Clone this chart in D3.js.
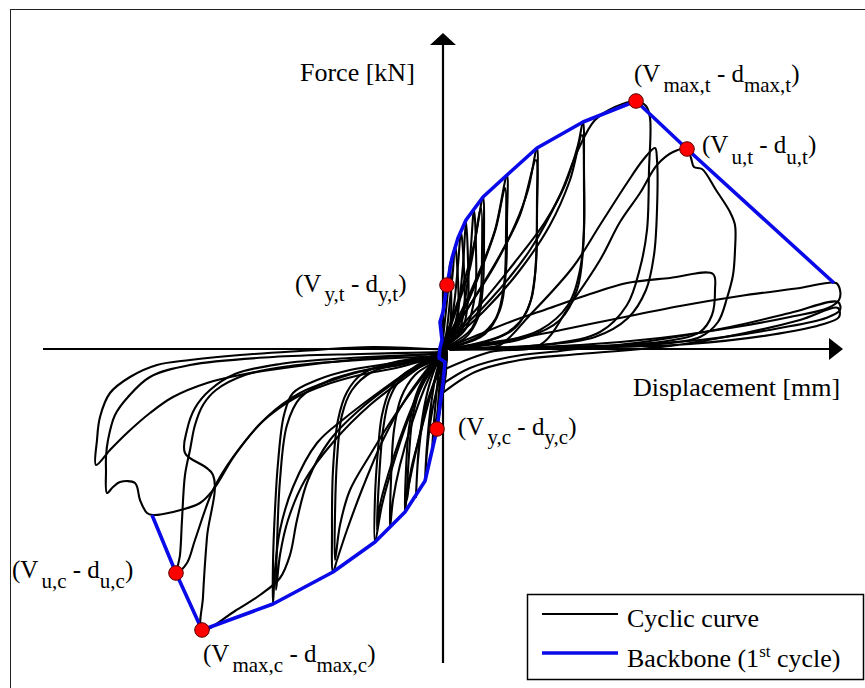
<!DOCTYPE html>
<html><head><meta charset="utf-8">
<script src="https://cdn.jsdelivr.net/npm/d3@7"></script>
<style>
body{margin:0;background:#fff}
svg{display:block}
text{font-family:"Liberation Serif","Times New Roman",Times,serif;fill:#000}
</style>
</head><body>
<svg id="chart" width="865" height="688"></svg>
<script>
// ---------- DATA (displacement d, force F; arbitrary units, origin at axes crossing) ----------
// Tension half-cycles: reloading -> peak -> unloading -> back to origin
const tensionCycles = [
  [[-1,2],[2,29],[5,59],[7,87],[8,64],[8,34],[5,11],[-1,1]],
  [[-2,-3],[3,14],[7,49],[10,79],[12,104],[15,69],[15,34],[9,9],[-2,-1]],
  [[-2,-1],[5,11],[11,44],[15,84],[18,117],[21,79],[21,39],[13,11],[-2,1]],
  [[-2,-1],[7,9],[15,39],[20,84],[23,127],[25,89],[25,49],[19,19],[2,3]],
  [[-2,-1],[9,9],[19,34],[26,79],[31,139],[33,99],[32,54],[22,19],[2,3]],
  [[-1,2],[12,39],[23,74],[32,109],[40,152],[41,109],[40,64],[35,31],[22,11],[3,2]],
  [[0,0],[15,44],[27,81],[38,141],[39,94],[37,49],[29,21],[4,2]],
  [[-1,2],[19,39],[37,79],[52,119],[64,174],[64,129],[63,79],[57,39],[42,15],[17,4]],
  [[0,1],[22,41],[40,84],[53,121],[62,161],[63,114],[61,64],[53,31],[35,12],[7,2]],
  [[-1,2],[27,44],[52,84],[72,124],[85,159],[94,201],[94,149],[93,89],[88,49],[72,21],[42,7],[7,1]],
  [[0,1],[30,49],[57,94],[77,134],[93,189],[94,134],[92,74],[83,36],[62,15],[22,3]],
  [[-1,2],[37,44],[72,87],[102,127],[122,164],[135,204],[140,227],[141,179],[141,119],[137,79],[125,44],[97,19],[52,6],[7,1]],
  [[0,1],[42,39],[77,79],[107,124],[127,169],[139,214],[141,159],[140,99],[134,59],[117,29],[82,11],[27,2]],
  [[-1,2],[47,49],[87,99],[117,154],[135,199],[152,229],[172,242],[193,248],[203,243],[207,231],[206,179],[204,119],[197,81],[184,44],[157,17],[107,5],[27,1]],
  [[0,0],[37,1],[57,4],[87,34],[130,82],[157,124],[184,166],[200,189],[212,201],[214,189],[214,139],[211,94],[203,59],[185,31],[152,12],[87,3],[17,0]],
  [[0,-21],[47,-3],[97,4],[127,44],[157,89],[177,127],[197,156],[214,184],[230,197],[244,200],[248,191],[251,182],[259,180],[273,159],[287,137],[292,124],[292,99],[290,74],[284,51],[275,27],[257,12],[217,5],[137,2],[17,0]],
  [[0,0],[30,12],[67,27],[107,41],[147,55],[184,66],[227,71],[270,75],[272,59],[269,34],[257,17],[217,7],[117,2],[7,0]],
  [[0,0],[77,11],[157,27],[237,43],[297,53],[357,61],[393,66],[397,59],[396,49],[385,41],[347,32],[287,21],[217,11],[137,4],[7,0]],
  [[-2,-36],[27,-19],[67,-8],[117,-2],[207,8],[287,22],[347,36],[395,47],[397,39],[383,31],[337,21],[257,9],[157,3],[7,0]],
  [[-3,-46],[32,-23],[77,-11],[137,-5],[227,3],[302,16],[357,29],[395,41],[396,32],[377,24],[327,14],[247,5],[137,1],[7,-1]]
];

// Compression half-cycles: reloading -> peak -> unloading -> back to origin
const compressionCycles = [
  [[2,1],[0,-16],[-2,-39],[-3,-56],[0,-43],[3,-23],[3,-3]],
  [[2,1],[-2,-23],[-5,-56],[-6,-79],[-3,-61],[1,-36],[4,-6]],
  [[2,1],[-4,-23],[-8,-61],[-11,-101],[-8,-79],[-3,-49],[4,-9]],
  [[2,1],[-6,-21],[-12,-56],[-16,-96],[-18,-132],[-16,-103],[-12,-69],[-5,-36],[4,-9]],
  [[2,1],[-8,-19],[-17,-49],[-24,-96],[-27,-148],[-25,-111],[-20,-71],[-11,-39],[4,-9]],
  [[2,1],[-10,-36],[-21,-76],[-30,-116],[-36,-146],[-38,-163],[-37,-121],[-34,-79],[-27,-46],[-15,-23],[3,-8]],
  [[2,0],[-11,-41],[-23,-86],[-32,-121],[-36,-151],[-34,-106],[-30,-66],[-21,-36],[-7,-17],[4,-8]],
  [[2,1],[-15,-31],[-30,-71],[-43,-116],[-50,-151],[-53,-179],[-52,-131],[-49,-81],[-42,-49],[-28,-26],[-8,-13],[4,-7]],
  [[2,1],[-18,-31],[-35,-71],[-50,-116],[-61,-156],[-68,-193],[-68,-148],[-65,-101],[-61,-66],[-53,-41],[-38,-24],[-15,-13],[4,-7]],
  [[2,0],[-21,-36],[-40,-81],[-55,-126],[-63,-156],[-66,-181],[-64,-131],[-60,-81],[-54,-51],[-43,-31],[-23,-18],[4,-8]],
  [[2,1],[-18,-23],[-38,-51],[-60,-91],[-80,-138],[-96,-181],[-106,-211],[-110,-223],[-111,-181],[-110,-121],[-105,-71],[-96,-43],[-81,-25],[-48,-13],[4,-6]],
  [[2,0],[-23,-31],[-48,-66],[-73,-106],[-93,-141],[-103,-176],[-108,-211],[-108,-166],[-106,-111],[-101,-66],[-91,-41],[-71,-23],[-33,-13],[4,-7]],
  [[2,1],[-33,-21],[-68,-46],[-98,-69],[-126,-94],[-150,-138],[-163,-181],[-168,-221],[-170,-255],[-170,-214],[-168,-161],[-165,-114],[-159,-66],[-150,-44],[-126,-31],[-93,-21],[-43,-13],[4,-6]],
  [[2,0],[-38,-29],[-73,-56],[-108,-91],[-138,-131],[-155,-171],[-163,-206],[-167,-241],[-166,-196],[-163,-131],[-156,-76],[-143,-49],[-113,-31],[-63,-18],[4,-8]],
  [[2,1],[-38,-26],[-78,-56],[-113,-91],[-135,-131],[-146,-171],[-153,-206],[-163,-229],[-183,-246],[-208,-262],[-241,-281],[-240,-248],[-236,-188],[-230,-126],[-258,-104],[-256,-81],[-248,-59],[-233,-41],[-208,-25],[-163,-15],[-93,-9],[4,-5]],
  [[4,-3],[-43,-16],[-76,-21],[-110,-31],[-143,-44],[-176,-68],[-210,-108],[-230,-141],[-248,-191],[-256,-214],[-266,-224],[-263,-206],[-261,-171],[-258,-126],[-253,-101],[-248,-76],[-240,-56],[-227,-41],[-198,-26],[-153,-17],[-83,-11],[4,-7]],
  [[4,-4],[-43,-18],[-83,-26],[-118,-36],[-148,-49],[-181,-73],[-208,-106],[-230,-141],[-243,-154],[-270,-163],[-290,-166],[-296,-164],[-303,-151],[-308,-134],[-323,-133],[-330,-138],[-336,-144],[-337,-121],[-337,-108],[-335,-91],[-328,-66],[-315,-48],[-293,-28],[-253,-16],[-170,-8],[-83,-5],[4,-3]],
  [[4,-1],[-70,2],[-143,-2],[-203,-6],[-253,-11],[-286,-16],[-313,-28],[-333,-44],[-343,-68],[-346,-91],[-347,-116],[-333,-101],[-316,-84],[-293,-64],[-270,-48],[-236,-34],[-203,-26],[-136,-16],[-70,-9],[4,-4]]
];

// Backbone (1st cycle envelope)
const backbone = [
  [-291,-166],[-267,-224],[-241,-281],[-170,-255],[-110,-223],[-68,-193],[-38,-163],[-18,-132],
  [-12,-106],[-6,-80],[-3,-56],[0,-34],[2,-13],[-4,-9],[-3,1],[-1,9],[-3,27],[0,37],[4,64],
  [9,91],[15,111],[23,129],[40,152],[64,174],[94,201],[140,227],[193,248],[244,200],[391,66]
];

// Characteristic points
const pointNames = ["max,t","u,t","y,t","y,c","u,c","max,c"];
const pointValues = [[193,248],[244,200],[4,64],[-6,-80],[-267,-224],[-241,-281]];

// Legend entries and titles
const legendLabels = ["Cyclic curve", "Backbone (1", "st", " cycle)"];
const axisTitles = ["Force [kN]", "Displacement [mm]"];

// ---------- SCALES ----------
const W = 865, H = 688;
const x = d3.scaleLinear().domain([-443, 422]).range([0, W]);
const y = d3.scaleLinear().domain([349, -339]).range([0, H]);

const svg = d3.select("#chart");

// Outer frame
svg.append("rect").attr("x", 10.5).attr("y", 9.5).attr("width", 900).attr("height", 720)
  .attr("fill", "none").attr("stroke", "#222").attr("stroke-width", 1);

const cyc = d3.line().x(d => x(d[0])).y(d => y(d[1])).curve(d3.curveCatmullRom.alpha(0.5));

const gC = svg.append("g").attr("fill", "none").attr("stroke", "#000")
  .attr("stroke-width", 2.1).attr("stroke-linejoin", "round").attr("stroke-linecap", "round");
gC.selectAll("path.t").data(tensionCycles).join("path").attr("class", "t").attr("d", cyc);
gC.selectAll("path.c").data(compressionCycles).join("path").attr("class", "c").attr("d", cyc);

// Axes with arrows
const axX = [-400, 386, 400], axY = [-314, 304, 316];
const gA = svg.append("g");
gA.append("line").attr("x1", x(axX[0])).attr("x2", x(axX[1])).attr("y1", y(0)).attr("y2", y(0))
  .attr("stroke", "#000").attr("stroke-width", 2.2);
gA.append("line").attr("x1", x(0)).attr("x2", x(0)).attr("y1", y(axY[0])).attr("y2", y(axY[1]))
  .attr("stroke", "#000").attr("stroke-width", 2.2);
gA.append("path").attr("d", `M${x(axX[2])},${y(0)}L${x(axX[1])},${y(0) - 11}L${x(axX[1])},${y(0) + 11}Z`).attr("fill", "#000");
gA.append("path").attr("d", `M${x(0)},${y(axY[2])}L${x(0) - 13},${y(axY[1])}L${x(0) + 13},${y(axY[1])}Z`).attr("fill", "#000");

// Backbone
svg.append("path").datum(backbone)
  .attr("d", d3.line().x(d => x(d[0])).y(d => y(d[1])))
  .attr("fill", "none").attr("stroke", "#0a0ae8").attr("stroke-width", 3.6).attr("stroke-linejoin", "round");

// Points
svg.selectAll("circle.kp").data(pointValues).join("circle").attr("class", "kp")
  .attr("cx", d => x(d[0])).attr("cy", d => y(d[1])).attr("r", 7.3)
  .attr("fill", "#f00").attr("stroke", "#5a0000").attr("stroke-width", 1);

// Point labels (offsets in px relative to the point)
const labelOffsets = [[-2,-19,10],[15,4,11],[-152,7,9],[21,6,9],[-164,5,10],[1,32,10]];
pointValues.forEach((p, i) => {
  const [ox, oy, sh] = labelOffsets[i];
  const t = svg.append("text").attr("x", x(p[0]) + ox).attr("y", y(p[1]) + oy).attr("font-size", 25);
  t.append("tspan").text("(V");
  t.append("tspan").attr("dx", 3).attr("dy", sh).attr("font-size", 21).text(pointNames[i]);
  t.append("tspan").attr("dy", -sh).text(" - d");
  t.append("tspan").attr("dy", sh).attr("font-size", 21).text(pointNames[i]);
  t.append("tspan").attr("dy", -sh).text(")");
});

// Axis titles
svg.append("text").attr("x", 300).attr("y", 81).attr("font-size", 26).text(axisTitles[0]);
svg.append("text").attr("x", 633).attr("y", 396).attr("font-size", 26).text(axisTitles[1]);

// Legend
const lg = svg.append("g");
lg.append("rect").attr("x", 527.5).attr("y", 594.5).attr("width", 336).attr("height", 85)
  .attr("fill", "#fff").attr("stroke", "#000").attr("stroke-width", 1.5);
lg.append("line").attr("x1", 542).attr("x2", 618).attr("y1", 614).attr("y2", 614).attr("stroke", "#000").attr("stroke-width", 2);
lg.append("line").attr("x1", 542).attr("x2", 618).attr("y1", 653).attr("y2", 653).attr("stroke", "#0a0ae8").attr("stroke-width", 3.6);
lg.append("text").attr("x", 627).attr("y", 627).attr("font-size", 26).text(legendLabels[0]);
const lt = lg.append("text").attr("x", 627).attr("y", 667).attr("font-size", 26);
lt.append("tspan").text(legendLabels[1]);
lt.append("tspan").attr("dy", -10).attr("font-size", 17).text(legendLabels[2]);
lt.append("tspan").attr("dy", 10).text(legendLabels[3]);
</script>
</body></html>
